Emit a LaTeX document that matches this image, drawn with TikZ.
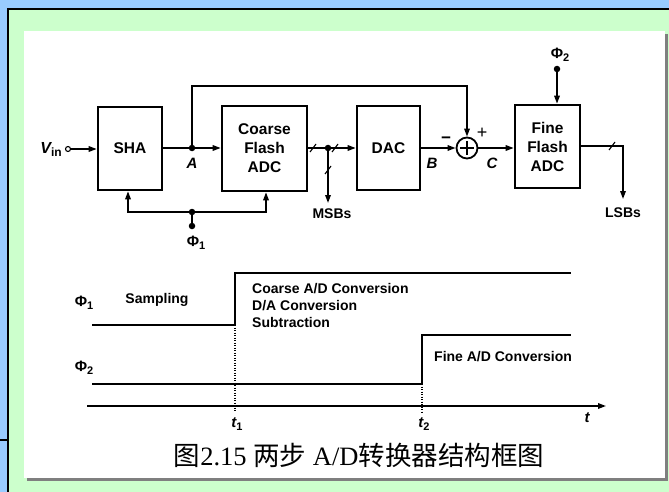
\documentclass[tikz,border=0pt]{standalone}
\usepackage{fontspec}
\setmainfont{Liberation Sans}
\newfontfamily\cjk{Noto Sans CJK SC}
\newfontfamily\capserif{Liberation Serif}
\usetikzlibrary{arrows.meta,calc}
\definecolor{bgblue}{HTML}{99CCFF}
\definecolor{panelgreen}{HTML}{CCFFCC}
\definecolor{shadowgray}{HTML}{7F7F7F}
\newcommand{\phisub}[1]{\textbf{Φ}\raisebox{-3pt}{\fontsize{11}{11}\selectfont\bfseries #1}}
\begin{document}
\begin{tikzpicture}[x=1pt,y=-1pt,
  blk/.style={draw,line width=2.6pt,inner sep=0pt,align=center,font=\bfseries\fontsize{15.5}{19}\selectfont},
  wire/.style={line width=1.6pt},
  arr/.style={-{Triangle[length=8pt,width=5.5pt]}},
  dotnode/.style={circle,fill,inner sep=0pt,minimum size=6.5pt},
  lbl/.style={font=\bfseries\fontsize{14}{17}\selectfont},
  ilbl/.style={font=\bfseries\itshape\fontsize{15}{16}\selectfont},
  wave/.style={line width=2.6pt},
  tickmark/.style={line width=1.1pt},
  dotline/.style={line width=1.1pt,dash pattern=on 1.2pt off 1.3pt}
]
\useasboundingbox (0,0) rectangle (669,492);
% background
\fill[bgblue] (0,0) rectangle (669,492);
\fill[panelgreen] (8,9) rectangle (669,492);
\draw[line width=1.2pt] (8,492) -- (8,9) -- (669,9);
\draw[line width=2pt] (0,440) -- (7,440);
\fill[shadowgray] (27,34) rectangle (668,481);
\fill[white] (24,31) rectangle (665,478);

% blocks
\node[blk,minimum width=64pt,minimum height=83pt] (sha) at (130,148.5) {SHA};
\node[blk,minimum width=85pt,minimum height=85pt] (coarse) at (264.5,148.5) {Coarse\\Flash\\ADC};
\node[blk,minimum width=63pt,minimum height=84pt] (dac) at (388.5,148) {DAC};
\node[blk,minimum width=65pt,minimum height=83pt] (fine) at (547.5,146.5) {Fine\\Flash\\ADC};
\node[circle,draw,line width=1.8pt,minimum size=21pt,inner sep=0pt] (sum) at (467,148) {};
\draw[line width=1.8pt] ($(sum.center)+(-7,0)$) -- ($(sum.center)+(7,0)$)
  ($(sum.center)+(0,-7)$) -- ($(sum.center)+(0,7)$);

% input
\node[circle,draw,line width=1.1pt,fill=white,minimum size=5pt,inner sep=0pt] (vin) at (68,149) {};
\node[anchor=east,inner sep=1pt,font=\bfseries\fontsize{16}{16}\selectfont] (vinl) at (63,149)
  {{\itshape V}\raisebox{-3pt}{\fontsize{12}{12}\selectfont in}};
\draw[wire,arr] (vin) -- (vin -| sha.west);

% node A and bypass
\node[dotnode] (Adot) at (192,148) {};
\draw[wire] (sha.east |- Adot) -- (Adot);
\draw[wire,arr] (Adot) -- (Adot -| coarse.west);
\node[ilbl] (Alab) at (192,163) {A};
\coordinate (topL) at (192,86);
\draw[wire,arr] (Adot) -- (topL) -| (sum.north);

% phi1 clock
\node[dotnode] (p1) at (192,226) {};
\node[dotnode] (j1) at (192,212) {};
\draw[wire] (p1) -- (j1);
\draw[wire,arr] (j1) -| ($(sha.south)+(-2,0)$);
\draw[wire,arr] (j1) -| ($(coarse.south)+(1.5,0)$);
\node[inner sep=0pt,font=\fontsize{15}{16}\selectfont] (phi1) at (196,243) {\phisub{1}};

% coarse -> DAC, MSBs
\node[dotnode] (m) at (328,148) {};
\draw[wire] (coarse.east |- m) -- (m);
\draw[wire,arr] (m) -- (m -| dac.west);
\draw[tickmark] (310,152) -- (316,144);
\draw[tickmark] (332,152) -- (338,144);
\coordinate (msbtip) at (328,203);
\draw[wire,arr] (m) -- (msbtip);
\draw[tickmark] (325,174) -- (331,166);
\node[lbl,anchor=north,inner sep=0pt] (msbs) at (332,209) {MSBs};

% DAC -> sum -> fine
\draw[wire,arr] (dac.east |- sum) -- (sum.west);
\node[inner sep=0pt,font=\bfseries\fontsize{17}{17}\selectfont] (minus) at (446,140) {−};
\node[inner sep=0pt,font=\fontsize{18}{18}\selectfont] (plus) at (482,133) {+};
\node[ilbl] (Blab) at (432,163) {B};
\node[ilbl] (Clab) at (492,163) {C};
\draw[wire,arr] (sum.east) -- (sum -| fine.west);

% phi2 clock
\node[dotnode] (p2) at (557,69) {};
\draw[wire,arr] (p2) -- (p2 |- fine.north);
\node[inner sep=0pt,font=\fontsize{15}{16}\selectfont] (phi2) at (560,55) {\phisub{2}};

% LSBs
\coordinate (lsbc) at (623,146);
\coordinate (lsbtip) at (623,199);
\draw[wire,arr] (fine.east |- lsbc) -- (lsbc) -- (lsbtip);
\draw[tickmark] (609,150) -- (615,142);
\node[lbl,anchor=north,inner sep=0pt] (lsbs) at (623,208) {LSBs};

% timing diagram
\node[inner sep=0pt,font=\fontsize{15}{16}\selectfont] (tphi1) at (84,303) {\phisub{1}};
\node[lbl,inner sep=0pt] (samp) at (157,300) {Sampling};
\draw[wave] (92,325) -- (235,325) -- (235,273) -- (571,273);
\node[lbl,anchor=west,align=left,inner sep=0pt] (ctext) at (252,305)
  {Coarse A/D Conversion\\D/A Conversion\\Subtraction};
\node[inner sep=0pt,font=\fontsize{15}{16}\selectfont] (tphi2) at (84,368) {\phisub{2}};
\draw[wave] (92,384) -- (422,384) -- (422,335) -- (571,335);
\node[lbl,anchor=west,inner sep=0pt] (ftext) at (434,357) {Fine A/D Conversion};
\draw[dotline] (235,325) -- (235,412);
\draw[dotline] (422,384) -- (422,412);
\draw[line width=1.6pt,arr] (87,406) -- (606,406);
\node[ilbl,inner sep=0pt] (t1) at (237,424) {t\raisebox{-3pt}{\fontsize{11}{11}\selectfont\upshape 1}};
\node[ilbl,inner sep=0pt] (t2) at (424,424) {t\raisebox{-3pt}{\fontsize{11}{11}\selectfont\upshape 2}};
\node[ilbl,inner sep=0pt] (tt) at (587,418) {t};

% caption
\fill[white] (160,432) rectangle (560,477);
\node[inner sep=0pt,font=\fontsize{26.5}{28}\selectfont] (cap) at (359,455)
  {{\cjk 图}{\capserif 2.15 }{\cjk 两步}{\capserif\ A/D}{\cjk 转换器结构框图}};
\end{tikzpicture}
\end{document}
